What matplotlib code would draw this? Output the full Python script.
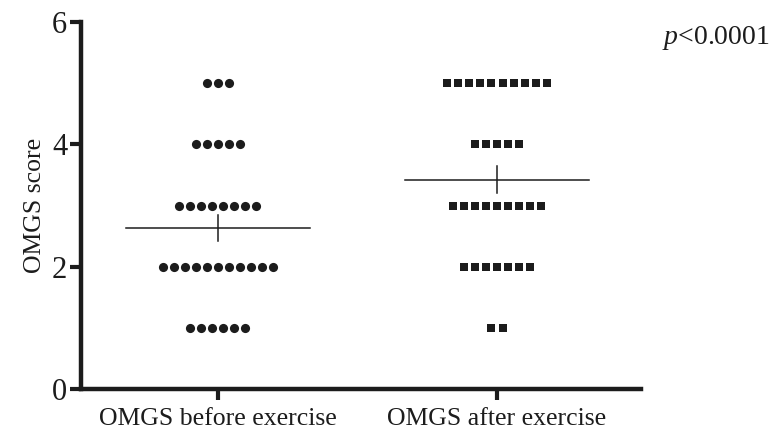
import matplotlib
matplotlib.use('Agg')
from matplotlib import pyplot as plt
import numpy as np

plt.rcParams['font.family'] = 'Liberation Serif'
plt.rcParams['mathtext.fontset'] = 'custom'
plt.rcParams['mathtext.it'] = 'Liberation Serif:italic'
plt.rcParams['mathtext.rm'] = 'Liberation Serif'

# scores and how many subjects had each score
groups = ['OMGS before exercise', 'OMGS after exercise']
scores = [5, 4, 3, 2, 1]
counts_before = [3, 5, 8, 11, 6]
counts_after = [10, 5, 9, 7, 2]
p_text = '$p$<0.0001'

ink = '#1c1c1c'
spacing = 0.0395  # horizontal spread of stacked points

fig = plt.figure(figsize=(7.72, 4.32), dpi=100)
ax = fig.add_axes([0.105, 0.0995, 0.725, 0.8495])

for gx, counts, marker, ms in [(1, counts_before, 'o', 6.6), (2, counts_after, 's', 6.45)]:
    vals = []
    for s, n in zip(scores, counts):
        offs = (np.arange(n) - (n - 1) / 2) * spacing
        ax.plot(gx + offs, [s] * n, linestyle='none', marker=marker, ms=ms,
                color=ink, markeredgewidth=0)
        vals += [s] * n
    vals = np.array(vals)
    m = vals.mean()
    sem = vals.std(ddof=1) / np.sqrt(len(vals))
    ax.plot([gx - 0.33, gx + 0.33], [m, m], color=ink, lw=1.1)
    ax.plot([gx, gx], [m - sem, m + sem], color=ink, lw=1.1)

ax.set_xlim(0.51, 2.515)
ax.set_ylim(0, 6)
ax.set_xticks([1, 2])
ax.set_xticklabels(groups, fontsize=18.5, color=ink)
ax.set_yticks([0, 2, 4, 6])
ax.tick_params(axis='y', labelsize=22, colors=ink, width=3, length=8, pad=2)
ax.tick_params(axis='x', colors=ink, width=3, length=8, pad=6)
ax.set_ylabel('OMGS score', fontsize=18.5, color=ink, labelpad=4)
for side in ['top', 'right']:
    ax.spines[side].set_visible(False)
for side in ['left', 'bottom']:
    ax.spines[side].set_linewidth(3.2)
    ax.spines[side].set_color(ink)
    ax.spines[side].set_capstyle('projecting')

fig.text(0.858, 0.912, p_text, fontsize=20, color=ink, ha='left', va='center')

plt.savefig('out.png', dpi=100)
